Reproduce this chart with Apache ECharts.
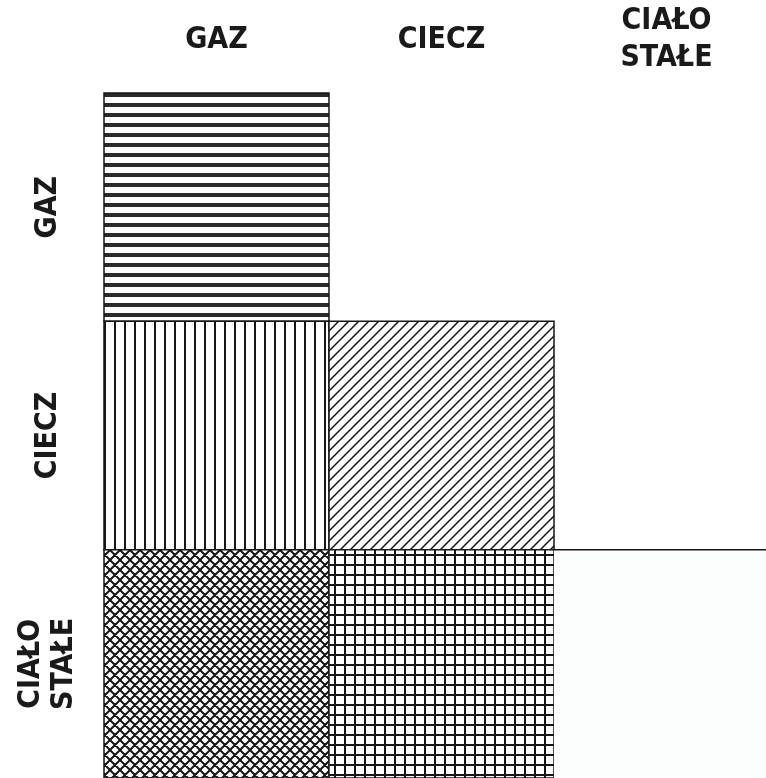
<!DOCTYPE html>
<html>
<head>
<meta charset="utf-8">
<script src="https://cdn.jsdelivr.net/npm/echarts@6/dist/echarts.min.js"></script>
<style>
html, body { margin: 0; padding: 0; background: #fff; }
#chart { width: 766px; height: 778px; }
</style>
</head>
<body>
<div id="chart"></div>
<script>
// stany skupienia - kolumny i wiersze
var colNames = ['GAZ', 'CIECZ', 'CIAŁO\nSTAŁE'];
var rowNames = ['GAZ', 'CIECZ', 'CIAŁO\nSTAŁE'];
// komórki: [kolumna, wiersz]
var cellPos = [[0, 0], [0, 1], [1, 1], [0, 2], [1, 2], [2, 2]];
// rodzaj kreskowania dla każdej komórki
var cellKinds = ['horizontal', 'vertical', 'diagonal', 'crosshatch', 'grid', 'blank'];

var ink = '#161616';
var labelFont = "'DejaVu Sans Condensed', 'Liberation Sans Narrow', 'DejaVu Sans', sans-serif";

//tworzenie wzorów kreskowania
function makePattern(kind) {
	var size = 10;
	var cv = document.createElement('canvas');
	cv.width = size;
	cv.height = size;
	var ctx = cv.getContext('2d');
	ctx.fillStyle = '#fff';
	ctx.fillRect(0, 0, size, size);
	ctx.fillStyle = ink;
	ctx.strokeStyle = ink;
	if (kind == 'horizontal') {
		ctx.fillStyle = '#2a2a2a';
		ctx.fillRect(0, 3, size, 4);
	} else if (kind == 'vertical') {
		ctx.fillRect(4, 0, 2, size);
	} else if (kind == 'grid') {
		ctx.fillRect(4, 0, 2, size);
		ctx.fillRect(0, 4, size, 2);
	} else if (kind == 'diagonal' || kind == 'crosshatch') {
		ctx.lineWidth = kind == 'diagonal' ? 1.5 : 2;
		ctx.beginPath();
		// "/" linie
		ctx.moveTo(-2, size + 2); ctx.lineTo(size + 2, -2);
		ctx.moveTo(-2, 2); ctx.lineTo(2, -2);
		ctx.moveTo(size - 2, size + 2); ctx.lineTo(size + 2, size - 2);
		if (kind == 'crosshatch') {
			// "\" linie
			ctx.moveTo(-2, -2); ctx.lineTo(size + 2, size + 2);
			ctx.moveTo(size - 2, -2); ctx.lineTo(size + 2, 2);
			ctx.moveTo(-2, size - 2); ctx.lineTo(2, size + 2);
		}
		ctx.stroke();
	}
	return cv;
}

var patterns = {};
cellKinds.forEach(function(k) {
	if (k != 'blank') patterns[k] = makePattern(k);
});

var chart = echarts.init(document.getElementById('chart'));

var option = {
	backgroundColor: '#fff',
	animation: false,
	grid: {
		left: 104,
		top: 93,
		width: 675,
		height: 685,
		outerBoundsMode: 'none'
	},
	xAxis: {
		type: 'category',
		position: 'top',
		data: colNames,
		axisLine: { show: false },
		axisTick: { show: false },
		splitLine: { show: false },
		axisLabel: {
			margin: 53,
			verticalAlign: 'middle',
			fontFamily: labelFont,
			fontWeight: 'bold',
			fontSize: 30,
			lineHeight: 37,
			color: '#1a1a1a'
		}
	},
	yAxis: {
		type: 'category',
		inverse: true,
		data: rowNames,
		axisLine: { show: false },
		axisTick: { show: false },
		splitLine: { show: false },
		axisLabel: {
			rotate: 90,
			margin: 56,
			align: 'center',
			verticalAlign: 'middle',
			fontFamily: labelFont,
			fontWeight: 'bold',
			fontSize: 30,
			lineHeight: 33,
			color: '#1a1a1a'
		}
	},
	series: [{
		type: 'custom',
		encode: { x: 0, y: 1 },
		data: cellPos,
		clip: false,
		renderItem: function(params, api) {
			var c = api.coord([api.value(0), api.value(1)]);
			var s = api.size([1, 1]);
			var x = c[0] - s[0] / 2, y = c[1] - s[1] / 2;
			var kind = cellKinds[params.dataIndex];
			if (kind == 'blank') {
				return {
					type: 'group',
					children: [{
						type: 'rect',
						shape: { x: x, y: y, width: s[0], height: s[1] },
						style: { fill: '#fcfdfd' }
					}, {
						type: 'line',
						shape: { x1: x, y1: y, x2: x + s[0], y2: y },
						style: { stroke: ink, lineWidth: 1.5 }
					}]
				};
			}
			return {
				type: 'rect',
				shape: { x: x, y: y, width: s[0], height: s[1] },
				style: {
					fill: { image: patterns[kind], repeat: 'repeat' },
					stroke: ink,
					lineWidth: 1.5
				}
			};
		}
	}]
};
chart.setOption(option);
</script>
</body>
</html>
